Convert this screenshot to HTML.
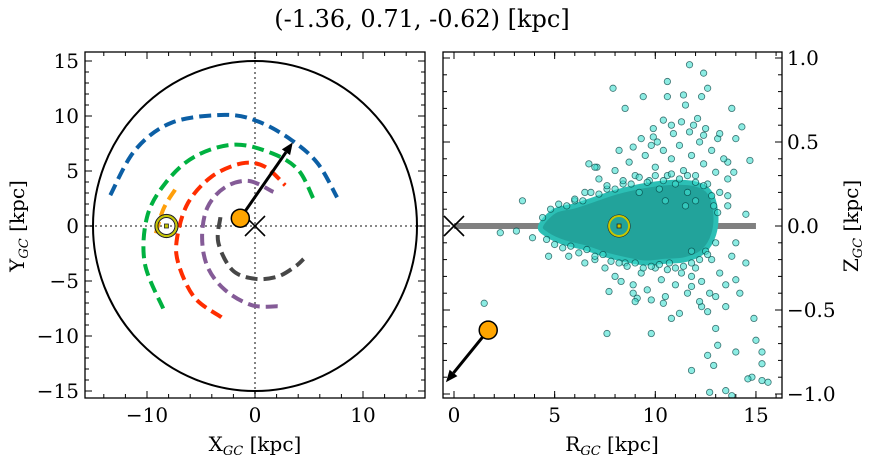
<!DOCTYPE html>
<html><head><meta charset="utf-8">
<style>
html,body{margin:0;padding:0;background:#fff;}
svg{display:block;font-family:"DejaVu Serif","Liberation Serif",serif;}
</style></head>
<body>
<svg id="fig" width="874" height="464" viewBox="0 0 874 464" xmlns="http://www.w3.org/2000/svg">
<text x="422" y="27" font-size="24" text-anchor="middle">(-1.36, 0.71, -0.62) [kpc]</text>
<g id="left"></g>
<g id="right"></g>
</svg>
<script>
// ---- data: left panel (galactocentric XY) ----
const arcNames = ['arc-blue','arc-green','arc-red','arc-purple','arc-gray','arc-orange'];
const arcColors = ['#0c5fa5','#00b140','#ff2d00','#845b97','#474747','#ff9f0a'];
const arcX = [
 [-13.4,-11.1,-7.7,-2.8,0.3,3.4,5.8,7.6],
 [-8.5,-10.2,-10,-8.3,-5.6,-1.9,1.6,4,5.4],
 [-3.1,-5.6,-7.1,-7.2,-6.2,-4,-1.2,0.9,2.8],
 [2.1,-0.3,-2.8,-4.4,-4.9,-4.4,-2.8,-0.6,1.7],
 [-3.2,-3.4,-2.1,0,2.1,3.7,4.5],
 [-7.4,-8.5,-9.3]
];
const arcY = [
 [2.8,6.9,9.4,10.1,9.5,7.8,5.7,2.6],
 [-7.5,-3.4,0.8,3.9,6.3,7.4,6.6,5.1,2.5],
 [-8.3,-6.5,-3.4,-1,2.1,4.5,5.7,5.4,3.7],
 [-7.3,-7.2,-5.8,-3.7,-1,1.7,3.5,4.1,3.1],
 [0.8,-1.5,-4,-4.8,-4.6,-3.7,-3],
 [3.3,1.5,-1.1]
];
const sunXY = [-8.2, 0];
const objXY = [-1.36, 0.71];
const objArrowXY = [3.5, 7.6];
const boundaryRadius = 15;
const xyTicks = [-10, 0, 10];
const xyYTicks = [-15, -10, -5, 0, 5, 10, 15];
// ---- data: right panel (R,Z) ----
const starR = [11.7,12.4,7.9,10.6,11.4,10.6,9.4,12.6,12.3,8.5,11.5,13.8,10.4,12.1,14.3,9.9,14.7,6.7,7.1,3.4,2.3,3.1,3.9,4.7,5.7,1.5,7.6,9.8,7.7,14.9,13.0,15.0,13.1,14.0,12.6,12.9,11.8,15.3,15.3,14.8,14.6,15.3,15.6,12.7,13.5,13.8,10.8,11.2,12.3,13.5,14.2,14.0,14.5,14.0,14.5,13.6,13.6,13.9,13.6,14.0,13.1,12.4,8.9,9.9,10.8,11.7,11.8,12.7,12.6,11.8,10.4,9.8,9.1,8.9,8.3,
 7.2,7.6,8.0,8.4,8.7,9.0,9.2,9.5,9.7,10.0,10.2,10.4,10.6,10.8,11.0,11.2,11.4,11.6,11.8,12.0,12.2,12.4,12.6,12.8,13.0,13.2,13.4,12.0,11.5,10.5,9.8,10.9,11.9,12.5,6.5,6.0,7.0,8.2,9.3,10.1,11.3,13.2,12.9,13.6,
 7.5,8.0,8.5,8.9,9.3,9.6,10.0,10.3,10.7,11.0,11.3,11.6,12.0,12.3,12.8,13.2,13.5,12.5,11.8,10.5,9.0,7.0,6.5,13.8,12.2,13.0,
 4.4,4.8,5.2,5.6,6.0,6.4,6.8,7.2,7.6,8.0,8.4,8.8,9.2,9.6,10.0,10.4,10.8,11.2,11.6,12.0,12.4,12.8,13.1,
 4.6,5.0,5.4,5.8,6.2,6.6,7.0,7.4,7.8,8.2,8.6,9.0,9.4,9.8,10.2,10.6,11.0,11.4,11.8,12.2,12.6,13.0];
const starZ = [0.96,0.91,0.82,0.86,0.78,0.77,0.77,0.82,0.77,0.70,0.72,0.70,0.63,0.64,0.59,0.58,0.39,0.37,0.35,0.15,-0.04,-0.03,-0.07,-0.18,-0.18,-0.46,-0.64,-0.64,-0.39,-0.55,-0.61,-0.68,-0.71,-0.75,-0.77,-0.83,-0.86,-0.75,-0.82,-0.90,-0.91,-0.92,-0.93,-0.99,-0.98,-1.01,-0.55,-0.52,-0.48,-0.48,-0.40,-0.32,-0.22,-0.10,0.07,0.12,0.18,0.32,0.38,0.52,0.52,0.54,0.47,0.53,0.60,0.56,-0.36,-0.40,-0.51,-0.30,-0.46,-0.44,-0.43,-0.40,-0.33,
 0.28,0.22,0.33,0.25,0.38,0.30,0.20,0.42,0.27,0.35,0.22,0.45,0.30,0.40,0.25,0.48,0.33,0.20,0.42,0.30,0.50,0.37,0.25,0.45,0.32,0.20,0.40,0.15,0.12,0.15,0.48,0.55,0.60,0.58,0.20,0.15,0.35,0.45,0.52,0.50,0.62,0.55,0.12,0.28,
 -0.25,-0.30,-0.22,-0.35,-0.28,-0.38,-0.25,-0.32,-0.22,-0.35,-0.28,-0.40,-0.25,-0.33,-0.20,-0.28,-0.35,-0.15,-0.15,-0.42,-0.45,-0.20,-0.22,-0.18,-0.45,-0.42,
 0.05,0.1,0.13,0.12,0.16,0.15,0.2,0.19,0.24,0.22,0.27,0.25,0.29,0.26,0.3,0.27,0.31,0.28,0.3,0.26,0.24,0.18,0.08,
 -0.08,-0.11,-0.13,-0.12,-0.16,-0.14,-0.18,-0.17,-0.21,-0.22,-0.24,-0.22,-0.25,-0.24,-0.23,-0.26,-0.25,-0.24,-0.22,-0.2,-0.17,-0.1];
const coreR = [4.3,5,6,7,8,9,10,11,12,12.7,13,12.9,12.4,11.5,10.5,9.5,8.5,7.5,6.5,5.5,4.6];
const coreZ = [0,0.09,0.12,0.16,0.2,0.23,0.25,0.26,0.25,0.2,0.08,-0.05,-0.15,-0.2,-0.21,-0.22,-0.2,-0.17,-0.13,-0.1,-0.05];
const sunRZ = [8.2, 0];
const objRZ = [1.7, -0.62];
const objArrowRZ = [-0.4, -0.93];
const discLineR = [0, 15];
const rTicks = [0, 5, 10, 15];
const zTicks = [-1.0, -0.5, 0.0, 0.5, 1.0];
const zTickLabels = ['\u22121.0','\u22120.5','0.0','0.5','1.0'];

const NS='http://www.w3.org/2000/svg';
function mk(parent, tag, attrs){const e=document.createElementNS(NS,tag);for(const k in attrs)e.setAttribute(k,attrs[k]);parent.appendChild(e);return e;}
function smooth(pts, closed){
  const n=pts.length; let d='M'+pts[0][0].toFixed(1)+','+pts[0][1].toFixed(1);
  const g=i=>closed?pts[(i+n)%n]:pts[Math.max(0,Math.min(n-1,i))];
  const m=closed?n:n-1;
  for(let i=0;i<m;i++){
    const p0=g(i-1),p1=g(i),p2=g(i+1),p3=g(i+2);
    const c1=[p1[0]+(p2[0]-p0[0])/6,p1[1]+(p2[1]-p0[1])/6];
    const c2=[p2[0]-(p3[0]-p1[0])/6,p2[1]-(p3[1]-p1[1])/6];
    d+=`C${c1[0].toFixed(1)},${c1[1].toFixed(1)} ${c2[0].toFixed(1)},${c2[1].toFixed(1)} ${p2[0].toFixed(1)},${p2[1].toFixed(1)}`;
  }
  return closed?d+'Z':d;
}

// ---------- LEFT ----------
const L = document.getElementById('left');
const lx0=85,lx1=425,ly0=52,ly1=398;
const lsx = v => 255 + v*10.8;
const lsy = v => 226 - v*11;
const lclip = mk(L,'clipPath',{id:'lc'}); mk(lclip,'rect',{x:lx0,y:ly0,width:lx1-lx0,height:ly1-ly0});
const lg = mk(L,'g',{'clip-path':'url(#lc)'});
let e;
e = mk(lg,'line',{x1:lx0,x2:lx1,y1:lsy(0),y2:lsy(0),stroke:'#777','stroke-width':1.8,'stroke-dasharray':'2,3'});
 
e = mk(lg,'line',{x1:lsx(0),x2:lsx(0),y1:ly0,y2:ly1,stroke:'#777','stroke-width':1.8,'stroke-dasharray':'2,3'});
 
e = mk(lg,'ellipse',{cx:lsx(0),cy:lsy(0),rx:boundaryRadius*10.8,ry:boundaryRadius*11,fill:'none',stroke:'#000','stroke-width':2});
 
arcX.forEach((xs,i)=>{
  const pts = xs.map((x,j)=>[lsx(x),lsy(arcY[i][j])]);
  const p = mk(lg,'path',{d:smooth(pts,false),fill:'none',stroke:arcColors[i],'stroke-width':4,'stroke-dasharray':'12,6'});
  
  
});
e = mk(lg,'circle',{cx:lsx(sunXY[0]),cy:lsy(sunXY[1]),r:11.5,fill:'none',stroke:'#222','stroke-width':1.2});
 
mk(lg,'circle',{cx:lsx(sunXY[0]),cy:lsy(sunXY[1]),r:10,fill:'none',stroke:'#c8c800','stroke-width':2});
mk(lg,'circle',{cx:lsx(sunXY[0]),cy:lsy(sunXY[1]),r:8.5,fill:'none',stroke:'#222','stroke-width':1});
mk(lg,'rect',{x:lsx(sunXY[0])-2,y:lsy(sunXY[1])-2,width:4,height:4,fill:'#c8c800',stroke:'#222','stroke-width':0.8});
e = mk(lg,'path',{d:`M${lsx(0)-10},${lsy(0)-10}L${lsx(0)+10},${lsy(0)+10}M${lsx(0)-10},${lsy(0)+10}L${lsx(0)+10},${lsy(0)-10}`,stroke:'#000','stroke-width':1.6});
 
function arrow(g,x1,y1,x2,y2,name){
  const a=Math.atan2(y2-y1,x2-x1),h=12,w=5;
  const bx=x2-h*Math.cos(a),by=y2-h*Math.sin(a);
  const grp = mk(g,'g',{});
  
  
  mk(grp,'line',{x1:x1,y1:y1,x2:bx,y2:by,stroke:'#000','stroke-width':3});
  mk(grp,'polygon',{points:`${x2},${y2} ${bx+w*Math.sin(a)},${by-w*Math.cos(a)} ${bx-w*Math.sin(a)},${by+w*Math.cos(a)}`,fill:'#000'});
}
arrow(lg,lsx(objXY[0]),lsy(objXY[1]),lsx(objArrowXY[0]),lsy(objArrowXY[1]),'velocity-arrow-xy');
e = mk(lg,'circle',{cx:lsx(objXY[0]),cy:lsy(objXY[1]),r:9,fill:'#ffa500',stroke:'#000','stroke-width':1.5});
 

function frame(g,x0,y0,x1,y1,name){
  const r=mk(g,'rect',{x:x0,y:y0,width:x1-x0,height:y1-y0,fill:'none',stroke:'#000','stroke-width':1.3});
   
}
function ticks(g,axisFn,vals,len,horiz,a,b){
  vals.forEach(v=>{const p=axisFn(v);
    if(horiz){mk(g,'line',{x1:p,x2:p,y1:a,y2:a-len,stroke:'#000','stroke-width':1});mk(g,'line',{x1:p,x2:p,y1:b,y2:b+len,stroke:'#000','stroke-width':1});}
    else{mk(g,'line',{y1:p,y2:p,x1:a,x2:a+len,stroke:'#000','stroke-width':1});mk(g,'line',{y1:p,y2:p,x1:b,x2:b-len,stroke:'#000','stroke-width':1});}
  });
}
frame(L,lx0,ly0,lx1,ly1,'xy-plot-frame');
const lminx=[],lminy=[];
for(let v=-14;v<=14;v+=2)lminx.push(v);
for(let v=-15;v<=15;v++)lminy.push(v);
ticks(L,lsx,lminx,4,true,ly1,ly0);
ticks(L,lsx,xyTicks,7,true,ly1,ly0);
ticks(L,lsy,lminy,4,false,lx0,lx1);
ticks(L,lsy,xyYTicks,7,false,lx0,lx1);
const FS=20;
xyTicks.forEach(v=>{const t=mk(L,'text',{x:lsx(v),y:ly1+24,'font-size':FS,'text-anchor':'middle'});t.textContent=v<0?'\u2212'+(-v):v;
   });
xyYTicks.forEach(v=>{const t=mk(L,'text',{x:lx0-6,y:lsy(v)+7,'font-size':FS,'text-anchor':'end'});t.textContent=v<0?'\u2212'+(-v):v;
   });
let t=mk(L,'text',{x:255,y:451,'font-size':20,'text-anchor':'middle'});t.innerHTML='X<tspan font-size="13" font-style="italic" dy="4">GC</tspan><tspan dy="-4"> [kpc]</tspan>';
 
t=mk(L,'text',{x:0,y:0,'font-size':20,'text-anchor':'middle',transform:'translate(24,226) rotate(-90)'});t.innerHTML='Y<tspan font-size="13" font-style="italic" dy="4">GC</tspan><tspan dy="-4"> [kpc]</tspan>';
 

// ---------- RIGHT ----------
const R = document.getElementById('right');
const rx0=443,rx1=782,ry0=52,ry1=398;
const rsx = v => 454 + v*20.13;
const rsy = v => 226 - v*168;
const rclip = mk(R,'clipPath',{id:'rc'}); mk(rclip,'rect',{x:rx0,y:ry0,width:rx1-rx0,height:ry1-ry0});
const rg = mk(R,'g',{'clip-path':'url(#rc)'});
e = mk(rg,'line',{x1:rsx(discLineR[0]),x2:rsx(discLineR[1]),y1:rsy(0),y2:rsy(0),stroke:'#808080','stroke-width':6});
 
e = mk(rg,'path',{d:smooth(coreR.map((r,i)=>[rsx(r),rsy(coreZ[i])]),true),fill:'#22a39b',stroke:'#2cbfb5','stroke-width':5,'stroke-linejoin':'round'});
 
starR.forEach((r,i)=>{
  const c = mk(rg,'circle',{cx:rsx(r),cy:rsy(starZ[i]),r:3.2,fill:'rgba(64,224,208,0.6)',stroke:'rgba(0,60,60,0.7)','stroke-width':0.8});
  
  
});
mk(rg,'circle',{cx:rsx(sunRZ[0]),cy:rsy(sunRZ[1]),r:11,fill:'none',stroke:'#222','stroke-width':1});
e=mk(rg,'circle',{cx:rsx(sunRZ[0]),cy:rsy(sunRZ[1]),r:10,fill:'none',stroke:'#c8c800','stroke-width':2});
 
mk(rg,'rect',{x:rsx(sunRZ[0])-2,y:rsy(sunRZ[1])-2,width:4,height:4,fill:'#c8c800',stroke:'#222','stroke-width':0.8});
e = mk(rg,'path',{d:`M${rsx(0)-10},${rsy(0)-10}L${rsx(0)+10},${rsy(0)+10}M${rsx(0)-10},${rsy(0)+10}L${rsx(0)+10},${rsy(0)-10}`,stroke:'#000','stroke-width':1.6});
 
arrow(rg,rsx(objRZ[0]),rsy(objRZ[1]),rsx(objArrowRZ[0]),rsy(objArrowRZ[1]),'velocity-arrow-rz');
e = mk(rg,'circle',{cx:rsx(objRZ[0]),cy:rsy(objRZ[1]),r:9,fill:'#ffa500',stroke:'#000','stroke-width':1.5});
 

frame(R,rx0,ry0,rx1,ry1,'rz-plot-frame');
const rminx=[],rminy=[];
for(let v=0;v<=16;v++)rminx.push(v);
for(let v=-10;v<=10;v++)rminy.push(v/10);
ticks(R,rsx,rminx,4,true,ry1,ry0);
ticks(R,rsx,rTicks,7,true,ry1,ry0);
ticks(R,rsy,rminy,4,false,rx0,rx1);
ticks(R,rsy,zTicks,7,false,rx0,rx1);
rTicks.forEach(v=>{const tt=mk(R,'text',{x:rsx(v),y:ry1+24,'font-size':FS,'text-anchor':'middle'});tt.textContent=v;
   });
zTicks.forEach((v,i)=>{const tt=mk(R,'text',{x:rx1+5,y:rsy(v)+7,'font-size':FS,'text-anchor':'start'});tt.textContent=zTickLabels[i];
   });
t=mk(R,'text',{x:612,y:451,'font-size':20,'text-anchor':'middle'});t.innerHTML='R<tspan font-size="13" font-style="italic" dy="4">GC</tspan><tspan dy="-4"> [kpc]</tspan>';
 
t=mk(R,'text',{x:0,y:0,'font-size':20,'text-anchor':'middle',transform:'translate(858,226) rotate(-90)'});t.innerHTML='Z<tspan font-size="13" font-style="italic" dy="4">GC</tspan><tspan dy="-4"> [kpc]</tspan>';
 
</script>
</body></html>
